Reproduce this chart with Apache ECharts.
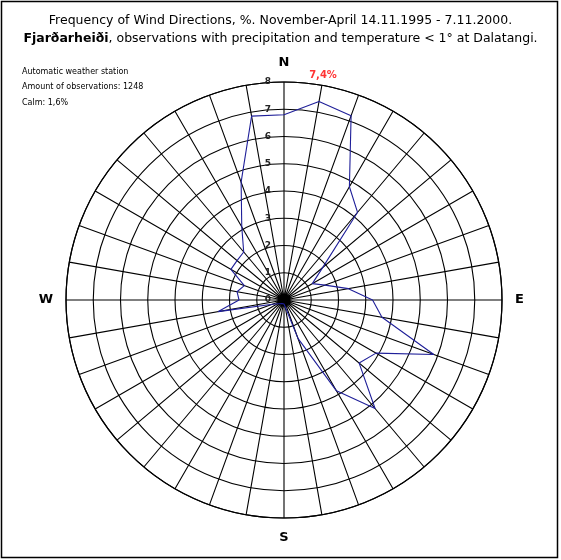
<!DOCTYPE html>
<html>
<head>
<meta charset="utf-8">
<script src="https://cdn.jsdelivr.net/npm/echarts@6/dist/echarts.min.js"></script>
<style>
    html, body { margin: 0; padding: 0; background: #fff; }
    #windRose { width: 561px; height: 560px; }
</style>
</head>
<body>
<div id="windRose"></div>
<script>
// wind directions (degrees from north) and frequency in %
var directions = [0, 10, 20, 30, 40, 50, 60, 70, 80, 90, 100, 110, 120, 130, 140, 150, 160, 170,
    180, 190, 200, 210, 220, 230, 240, 250, 260, 270, 280, 290, 300, 310, 320, 330, 340, 350];
var frequency = [6.8, 7.4, 7.2, 4.8, 4.2, 1.85, 1.2, 1.6, 2.4, 3.25, 3.65, 5.85, 3.9, 3.6, 5.2, 3.85, 1.5, 0.25,
    0.15, 0.1, 0.1, 0.15, 0.1, 0.1, 0.15, 0.45, 2.45, 1.65, 1.75, 1.55, 2.25, 2.25, 2.3, 3.1, 4.6, 6.85];
var compassLabels = { 0: "N", 90: "E", 180: "S", 270: "W" };
var infoLines = ["Automatic weather station", "Amount of observations: 1248", "Calm: 1,6%"];

var maxIdx = 0;
frequency.forEach(function (v, i) { if (v > frequency[maxIdx]) maxIdx = i; });

var lineData = directions.map(function (d, i) {
    return [frequency[i], d];
});
// close the rose
lineData.push([frequency[0], 360]);

var myChart = echarts.init(document.getElementById("windRose"));
var options = {
    animation: false,
    backgroundColor: "#fff",
    title: {
        text: "Frequency of Wind Directions, %. November-April 14.11.1995 - 7.11.2000.\n{b|Fjarðarheiði}, observations with precipitation and temperature < 1° at Dalatangi.",
        left: "center",
        top: 7,
        textStyle: {
            color: "#000",
            fontFamily: "DejaVu Sans",
            fontWeight: "normal",
            fontSize: 12.5,
            lineHeight: 18,
            rich: {
                b: { fontWeight: "bold", fontSize: 12.5, fontFamily: "DejaVu Sans", color: "#000" },
            },
        },
    },
    graphic: [
        {
            type: "rect",
            shape: { x: 1.5, y: 1.5, width: 556, height: 556 },
            style: { fill: "none", stroke: "#000", lineWidth: 1.5 },
        },
        {
            type: "text",
            left: 22,
            top: 64,
            style: {
                text: infoLines.join("\n"),
                font: "8px 'DejaVu Sans'",
                lineHeight: 15.5,
                fill: "#000",
            },
        },
    ],
    polar: {
        center: [284, 300],
        radius: 218,
    },
    angleAxis: {
        type: "value",
        min: 0,
        max: 360,
        interval: 10,
        startAngle: 90,
        clockwise: true,
        axisLine: { show: true, lineStyle: { color: "#000", width: 1.2 } },
        axisTick: { show: false },
        axisLabel: {
            margin: 13,
            color: "#000",
            fontWeight: "bold",
            fontSize: 13,
            fontFamily: "DejaVu Sans",
            formatter: function (v) { return compassLabels[v] || ""; },
        },
        splitLine: { show: true, lineStyle: { color: "#000", width: 1.1 } },
    },
    radiusAxis: {
        min: 0,
        max: 8,
        interval: 1,
        axisLine: { show: false },
        axisTick: { show: false },
        axisLabel: {
            color: "#222",
            fontWeight: "bold",
            fontSize: 9,
            fontFamily: "DejaVu Sans",
            margin: 13,
        },
        splitLine: { show: true, lineStyle: { color: "#000", width: 1.1 } },
        z: 5,
    },
    series: [
        {
            type: "line",
            coordinateSystem: "polar",
            data: lineData,
            symbol: "none",
            lineStyle: { color: "#1f1f99", width: 1.1 },
            z: 10,
        },
        {
            // label for the most frequent direction
            type: "scatter",
            coordinateSystem: "polar",
            data: [[frequency[maxIdx], directions[maxIdx]]],
            symbolSize: 1,
            itemStyle: { color: "rgba(0,0,0,0)" },
            label: {
                show: true,
                position: "top",
                distance: 21,
                offset: [4, 0],
                formatter: frequency[maxIdx].toFixed(1).replace(".", ",") + "%",
                color: "#ff0000",
                fontWeight: "bold",
                fontSize: 10,
                fontFamily: "DejaVu Sans",
            },
            z: 11,
        },
    ],
};
myChart.setOption(options);
</script>
</body>
</html>
